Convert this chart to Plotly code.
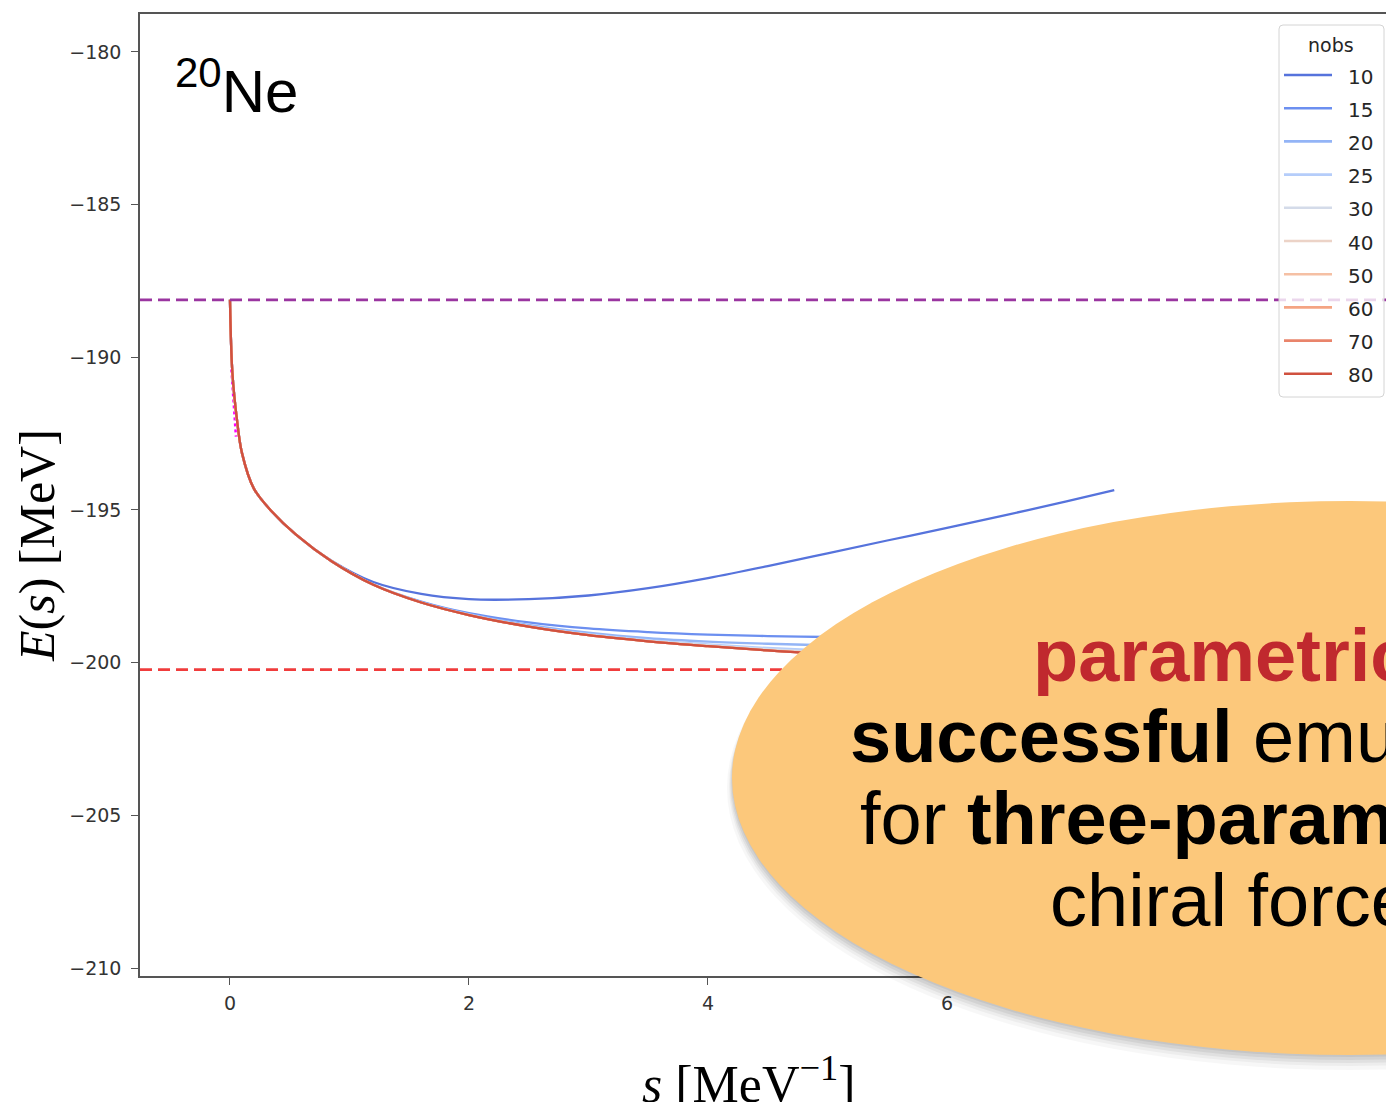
import plotly.graph_objects as go

# ---------------- data ----------------
S = [0, 0.02, 0.06, 0.1, 0.2, 0.35, 0.55, 0.85, 1.2, 1.6, 2.0, 2.5, 3.0, 3.5,
     4.0, 4.5, 5.0, 5.5, 6.0, 6.5, 7.0, 7.4]

nobs = [10, 15, 20, 25, 30, 40, 50, 60, 70, 80]

E_10 = [-188.12, -190.5, -192.1, -193.13, -194.3, -195.05, -195.8, -196.66, -197.36, -197.75,
        -197.92, -197.92, -197.8, -197.56, -197.23, -196.84, -196.42, -196.0, -195.59,
        -195.16, -194.72, -194.35]
E_15 = [-188.12, -190.5, -192.1, -193.13, -194.3, -195.05, -195.8, -196.68, -197.44, -198.0,
        -198.38, -198.68, -198.88, -199.0, -199.08, -199.13, -199.16, -199.18, -199.19,
        -199.19, -199.19, -199.18]
E_20 = [-188.12, -190.5, -192.1, -193.13, -194.3, -195.05, -195.8, -196.68, -197.45, -198.02,
        -198.41, -198.76, -199.02, -199.2, -199.31, -199.38, -199.43, -199.46, -199.48,
        -199.49, -199.5, -199.5]
E_25 = [-188.12, -190.5, -192.1, -193.13, -194.3, -195.05, -195.8, -196.68, -197.45, -198.03,
        -198.43, -198.8, -199.07, -199.26, -199.4, -199.52, -199.61, -199.68, -199.73,
        -199.77, -199.79, -199.8]
E_30 = [-188.12, -190.5, -192.1, -193.13, -194.3, -195.05, -195.8, -196.68, -197.45, -198.03,
        -198.44, -198.81, -199.09, -199.28, -199.43, -199.56, -199.66, -199.74, -199.8,
        -199.85, -199.88, -199.9]
E_40 = [-188.12, -190.5, -192.1, -193.13, -194.3, -195.05, -195.8, -196.68, -197.45, -198.03,
        -198.44, -198.82, -199.1, -199.3, -199.45, -199.59, -199.69, -199.77, -199.83,
        -199.88, -199.92, -199.94]
E_50 = [-188.12, -190.5, -192.1, -193.13, -194.3, -195.05, -195.8, -196.68, -197.45, -198.03,
        -198.44, -198.82, -199.1, -199.3, -199.46, -199.6, -199.71, -199.79, -199.85,
        -199.89, -199.93, -199.95]
E_60 = [-188.12, -190.5, -192.1, -193.13, -194.3, -195.05, -195.8, -196.68, -197.45, -198.03,
        -198.44, -198.82, -199.1, -199.3, -199.46, -199.6, -199.72, -199.8, -199.86,
        -199.9, -199.94, -199.96]
E_70 = [-188.12, -190.5, -192.1, -193.13, -194.3, -195.05, -195.8, -196.68, -197.45, -198.03,
        -198.44, -198.82, -199.1, -199.3, -199.46, -199.6, -199.72, -199.8, -199.86,
        -199.9, -199.94, -199.96]
E_80 = [-188.12, -190.5, -192.1, -193.13, -194.3, -195.05, -195.8, -196.68, -197.45, -198.03,
        -198.44, -198.82, -199.1, -199.3, -199.46, -199.6, -199.72, -199.8, -199.86,
        -199.9, -199.94, -199.96]

E_series = [E_10, E_15, E_20, E_25, E_30, E_40, E_50, E_60, E_70, E_80]
colors = ['#5673dc', '#6c8ff0', '#93b4f6', '#b5cdfa', '#d4dbe9',
          '#ecd3c7', '#f5c0a4', '#f4a483', '#e9846b', '#d0513f']

# small magenta segment near s = 0
S_mag = [0.012, 0.03, 0.05]
E_mag = [-190.4, -191.6, -192.6]

E_ref_top = -188.12     # purple dashed
E_ref_bottom = -200.23  # red dashed

X_RANGE = [-0.753, 9.674]
Y_RANGE = [-210.26, -178.76]
x_ticks = [0, 2, 4, 6, 8]
y_ticks = [-180, -185, -190, -195, -200, -205, -210]

nucleus_label = "<sup>20</sup>Ne"
axis_x_title = "<i>s</i> [MeV<sup>\u22121</sup>]"
axis_y_title = "<i>E</i>(<i>s</i>) [MeV]"
legend_title = "nobs"
bubble_lines = [
    ("<b>parametric</b>", '#c0292e'),
    ("<b>successful</b> emulation", '#000000'),
    ("for <b>three-parameter</b>", '#000000'),
    ("chiral force", '#000000'),
]

# ---------------- geometry (pixels) ----------------
W, H = 1386, 1102
PL, PR, PT, PB = 140, 1386, 14, 976


def fx(px):
    return (px - PL) / (PR - PL)


def fy(py):
    return (PB - py) / (PB - PT)


fig = go.Figure()

fig.add_trace(go.Scatter(x=S_mag, y=E_mag, mode='lines',
                         line=dict(color='#ff00ff', width=2.5, dash='dot'),
                         showlegend=False, hoverinfo='skip'))

for n, e, c in zip(nobs, E_series, colors):
    fig.add_trace(go.Scatter(x=S, y=e, mode='lines', name=str(n),
                             line=dict(color=c, width=2.3, shape='spline', smoothing=1.0),
                             showlegend=False))

fig.add_trace(go.Scatter(x=X_RANGE, y=[E_ref_top, E_ref_top], mode='lines',
                         line=dict(color='#9a35a0', width=2.8, dash='12px,6px'),
                         showlegend=False, hoverinfo='skip'))
fig.add_trace(go.Scatter(x=X_RANGE, y=[E_ref_bottom, E_ref_bottom], mode='lines',
                         line=dict(color='#f03c3c', width=2.8, dash='12px,6px'),
                         showlegend=False, hoverinfo='skip'))

shapes = []
annotations = []

# ---- legend (drawn by hand, matplotlib style) ----
lx0, lx1, ly0, ly1 = 1279, 1384, 25, 397
r = 4
path = (f"M {fx(lx0 + r)},{fy(ly0)} L {fx(lx1 - r)},{fy(ly0)} "
        f"Q {fx(lx1)},{fy(ly0)} {fx(lx1)},{fy(ly0 + r)} "
        f"L {fx(lx1)},{fy(ly1 - r)} Q {fx(lx1)},{fy(ly1)} {fx(lx1 - r)},{fy(ly1)} "
        f"L {fx(lx0 + r)},{fy(ly1)} Q {fx(lx0)},{fy(ly1)} {fx(lx0)},{fy(ly1 - r)} "
        f"L {fx(lx0)},{fy(ly0 + r)} Q {fx(lx0)},{fy(ly0)} {fx(lx0 + r)},{fy(ly0)} Z")
shapes.append(dict(type='path', path=path, xref='paper', yref='paper', layer='above',
                   fillcolor='rgba(255,255,255,0.8)', line=dict(color='#d4d4d4', width=1)))
annotations.append(dict(text=legend_title, x=fx(1331), y=fy(45), xref='paper', yref='paper',
                        showarrow=False, xanchor='center', yanchor='middle',
                        font=dict(family='DejaVu Sans', size=19, color='#262626')))
for i, (n, c) in enumerate(zip(nobs, colors)):
    yy = 75 + i * 33.2
    shapes.append(dict(type='line', xref='paper', yref='paper', layer='above',
                       x0=fx(1284), x1=fx(1332), y0=fy(yy), y1=fy(yy),
                       line=dict(color=c, width=2.6)))
    annotations.append(dict(text=str(n), x=fx(1346), y=fy(yy + 1.5), xref='paper', yref='paper',
                            showarrow=False, xanchor='left', yanchor='middle',
                            font=dict(family='DejaVu Sans', size=20, color='#262626')))

# ---- orange bubble with soft shadow ----
ex0, ex1, ey0, ey1 = 732, 1968, 501, 1055
for grow, dy, a in [(5, 10, 0.03), (3, 8, 0.04), (2, 6, 0.05), (1, 4, 0.06), (0, 2, 0.06)]:
    shapes.append(dict(type='circle', xref='paper', yref='paper', layer='above',
                       x0=fx(ex0 - grow), x1=fx(ex1 + grow), y0=fy(ey1 + dy + grow),
                       y1=fy(ey0 + dy - grow), fillcolor=f'rgba(0,0,0,{a})', line=dict(width=0)))
shapes.append(dict(type='circle', xref='paper', yref='paper', layer='above',
                   x0=fx(ex0), x1=fx(ex1), y0=fy(ey1), y1=fy(ey0),
                   fillcolor='#fcc87b', line=dict(width=0)))

line_starts = [1031, 848, 858, 1048]
line_baselines = [682, 763, 845, 927]
for (txt, col), xs, yb in zip(bubble_lines, line_starts, line_baselines):
    annotations.append(dict(text=txt, x=fx(xs), y=fy(yb - 26.7), xref='paper', yref='paper',
                            showarrow=False, xanchor='left', yanchor='middle',
                            font=dict(family='Liberation Sans', size=74, color=col)))

# ---- nucleus label ----
annotations.append(dict(text=nucleus_label, x=fx(173), y=fy(87), xref='paper', yref='paper',
                        showarrow=False, xanchor='left', yanchor='middle',
                        font=dict(family='Liberation Sans', size=60, color='#000000')))

# ---- axis titles ----
annotations.append(dict(text=axis_x_title, x=fx(748), y=fy(1080), xref='paper', yref='paper',
                        showarrow=False, xanchor='center', yanchor='middle',
                        font=dict(family='Liberation Serif', size=52, color='#000000')))
annotations.append(dict(text=axis_y_title, x=fx(37), y=fy(546), xref='paper', yref='paper',
                        showarrow=False, xanchor='center', yanchor='middle', textangle=-90,
                        font=dict(family='Liberation Serif', size=50, color='#000000')))

fig.update_layout(
    width=W, height=H,
    margin=dict(l=PL, r=W - PR, t=PT, b=H - PB, pad=0),
    plot_bgcolor='white', paper_bgcolor='white',
    shapes=shapes, annotations=annotations,
    showlegend=False,
    xaxis=dict(range=X_RANGE, tickvals=x_ticks, ticks='outside', ticklen=7, tickwidth=1.2,
               tickcolor='#555', showline=True, linecolor='#555', linewidth=1.5, mirror=True,
               showgrid=False, zeroline=False, ticklabelstandoff=2,
               tickfont=dict(family='DejaVu Sans', size=19, color='#333')),
    yaxis=dict(range=Y_RANGE, tickvals=y_ticks, ticks='outside', ticklen=7, tickwidth=1.2,
               tickcolor='#555', showline=True, linecolor='#555', linewidth=1.5, mirror=False,
               showgrid=False, zeroline=False, ticklabelstandoff=6,
               tickfont=dict(family='DejaVu Sans', size=19, color='#333')),
)

fig.write_html("out.html")
